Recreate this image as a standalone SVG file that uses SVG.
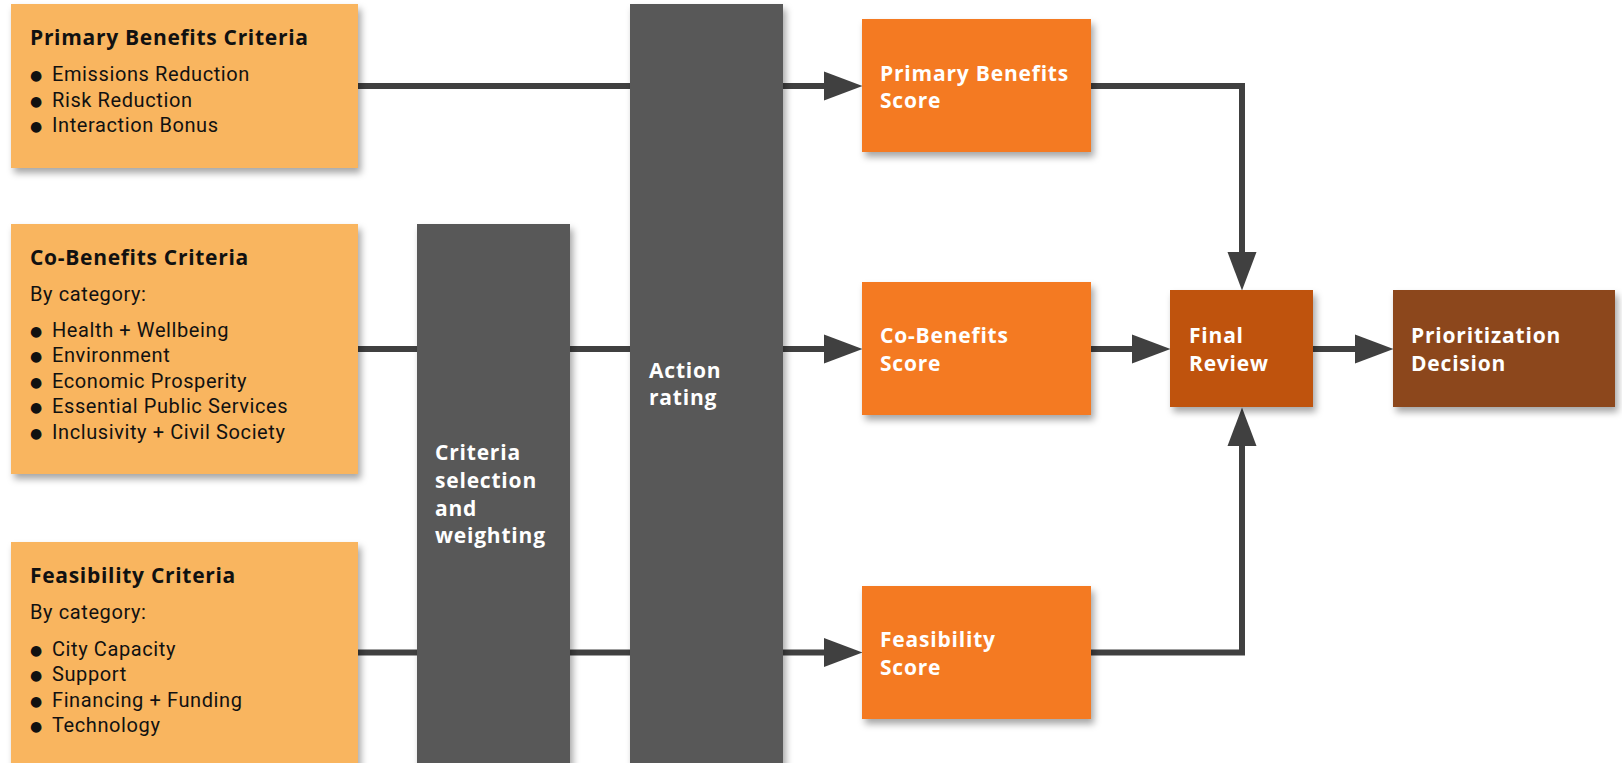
<svg xmlns="http://www.w3.org/2000/svg" width="1622" height="763" viewBox="0 0 1622 763">
<defs>
<filter id="sh" x="-10%" y="-10%" width="130%" height="130%">
<feDropShadow dx="3" dy="5" stdDeviation="3.5" flood-color="#000" flood-opacity="0.35"/>
</filter>
<marker id="ah" markerUnits="userSpaceOnUse" markerWidth="40" markerHeight="30" refX="0" refY="14.5" orient="auto" overflow="visible">
<path d="M0,0 L38.5,14.5 L0,29 Z" fill="#404040"/>
</marker>
<style>
.crit{fill:#F9B55F;filter:url(#sh)}
.bar{fill:#595959;filter:url(#sh)}
.score{fill:#F47A22;filter:url(#sh)}
.final{fill:#BF5310;filter:url(#sh)}
.dec{fill:#8C461E;filter:url(#sh)}
.ttl{font-family:"Open Sans","Liberation Sans",sans-serif;font-weight:700;font-size:21px;letter-spacing:0.7px;fill:#111}
.body{font-family:Roboto,"Liberation Sans",sans-serif;font-size:20px;letter-spacing:0.6px;fill:#111}
.bul{font-family:"DejaVu Sans",sans-serif;font-size:14px;fill:#111}
.wt{font-family:"Open Sans","Liberation Sans",sans-serif;font-weight:700;font-size:21px;letter-spacing:0.8px;fill:#fff}
.conn{fill:none;stroke:#404040;stroke-width:6;stroke-linejoin:miter}
</style>
</defs>
<rect width="1622" height="763" fill="#fff"/>
<g id="connectors">
<path class="conn" d="M358,86 H824" marker-end="url(#ah)"/>
<path class="conn" d="M358,349 H824" marker-end="url(#ah)"/>
<path class="conn" d="M358,652.5 H824" marker-end="url(#ah)"/>
<path class="conn" d="M1091,86 H1242 V252" marker-end="url(#ah)"/>
<path class="conn" d="M1091,349 H1132" marker-end="url(#ah)"/>
<path class="conn" d="M1091,652.5 H1242 V446" marker-end="url(#ah)"/>
<path class="conn" d="M1313,349 H1355" marker-end="url(#ah)"/>
</g>
<g id="primary-criteria">
<rect class="crit" x="11" y="4" width="347" height="164"/>
<text class="ttl" x="30" y="45">Primary Benefits Criteria</text>
<text class="bul" x="30" y="80">●</text><text class="body" x="52" y="81">Emissions Reduction</text>
<text class="bul" x="30" y="106">●</text><text class="body" x="52" y="107">Risk Reduction</text>
<text class="bul" x="30" y="131">●</text><text class="body" x="52" y="132">Interaction Bonus</text>
</g>
<g id="co-benefits-criteria">
<rect class="crit" x="11" y="224" width="347" height="250"/>
<text class="ttl" x="30" y="265">Co-Benefits Criteria</text>
<text class="body" x="30" y="301">By category:</text>
<text class="bul" x="30" y="336">●</text><text class="body" x="52" y="337">Health + Wellbeing</text>
<text class="bul" x="30" y="361">●</text><text class="body" x="52" y="362">Environment</text>
<text class="bul" x="30" y="387">●</text><text class="body" x="52" y="388">Economic Prosperity</text>
<text class="bul" x="30" y="412">●</text><text class="body" x="52" y="413">Essential Public Services</text>
<text class="bul" x="30" y="438">●</text><text class="body" x="52" y="439">Inclusivity + Civil Society</text>
</g>
<g id="feasibility-criteria">
<rect class="crit" x="11" y="542" width="347" height="240"/>
<text class="ttl" x="30" y="583">Feasibility Criteria</text>
<text class="body" x="30" y="619">By category:</text>
<text class="bul" x="30" y="655">●</text><text class="body" x="52" y="656">City Capacity</text>
<text class="bul" x="30" y="680">●</text><text class="body" x="52" y="681">Support</text>
<text class="bul" x="30" y="706">●</text><text class="body" x="52" y="707">Financing + Funding</text>
<text class="bul" x="30" y="731">●</text><text class="body" x="52" y="732">Technology</text>
</g>
<g id="criteria-selection">
<rect class="bar" x="417" y="224" width="153" height="560"/>
<text class="wt" x="435" y="460">Criteria</text>
<text class="wt" x="435" y="488">selection</text>
<text class="wt" x="435" y="516">and</text>
<text class="wt" x="435" y="543">weighting</text>
</g>
<g id="action-rating">
<rect class="bar" x="630" y="4" width="153" height="780"/>
<text class="wt" x="649" y="378">Action</text>
<text class="wt" x="649" y="405">rating</text>
</g>
<g id="primary-score">
<rect class="score" x="862" y="19" width="229" height="133"/>
<text class="wt" x="880" y="81">Primary Benefits</text>
<text class="wt" x="880" y="108">Score</text>
</g>
<g id="co-benefits-score">
<rect class="score" x="862" y="282" width="229" height="133"/>
<text class="wt" x="880" y="343">Co-Benefits</text>
<text class="wt" x="880" y="371">Score</text>
</g>
<g id="feasibility-score">
<rect class="score" x="862" y="586" width="229" height="133"/>
<text class="wt" x="880" y="647">Feasibility</text>
<text class="wt" x="880" y="675">Score</text>
</g>
<g id="final-review">
<rect class="final" x="1170" y="290" width="143" height="117"/>
<text class="wt" x="1189" y="343">Final</text>
<text class="wt" x="1189" y="371">Review</text>
</g>
<g id="prioritization-decision">
<rect class="dec" x="1393" y="290" width="222" height="117"/>
<text class="wt" x="1411" y="343">Prioritization</text>
<text class="wt" x="1411" y="371">Decision</text>
</g>
</svg>
